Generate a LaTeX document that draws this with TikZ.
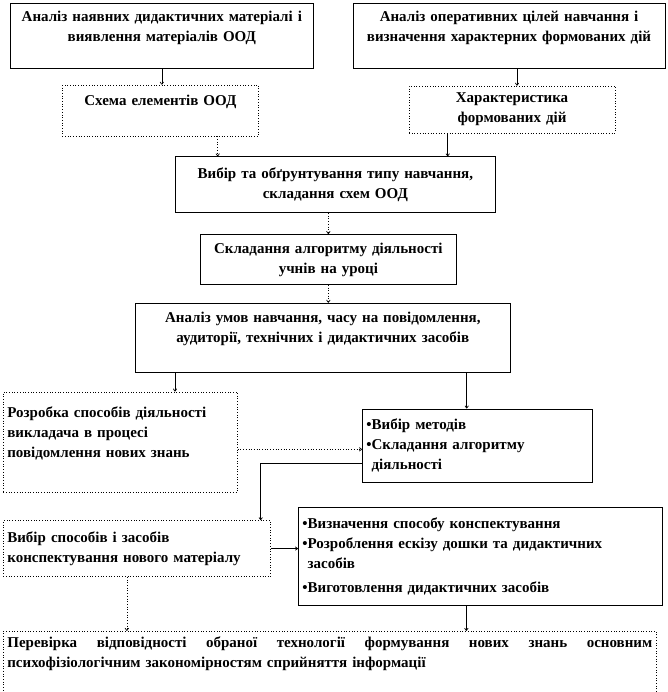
\documentclass[tikz,border=0pt]{standalone}
\usepackage{fontspec}
\setmainfont{Liberation Serif}
\usetikzlibrary{arrows.meta,positioning}

\begin{document}
\begin{tikzpicture}[x=1pt, y=1pt,
  every node/.style={font=\bfseries\fontsize{15}{20}\selectfont},
  box/.style={rectangle, draw, line width=0.7pt, inner sep=4pt, align=center, anchor=north west},
  dbox/.style={box, dotted},
  arr/.style={-{To[length=3pt,width=4pt]}, line width=0.7pt},
  darr/.style={arr, dotted}]
\useasboundingbox (0,0) rectangle (667,-692);
% top row
\node[box, text width=295pt, minimum height=65pt] (b1) at (10,-3) {Аналіз наявних дидактичних матеріалі і\\ виявлення матеріалів ООД\\ ~};
\node[box, text width=304pt, minimum height=65pt, below right=0pt and 39pt of b1.north east] (b2) {Аналіз оперативних цілей навчання і\\ визначення характерних формованих дій\\ ~};
\node[dbox, text width=188pt, minimum height=51pt, below right=16pt and 52pt of b1.south west] (b3) {Схема елементів ООД\\ ~};
\node[dbox, text width=198pt, minimum height=47pt, below right=17pt and 56pt of b2.south west] (b4) {Характеристика\\ формованих дій};
% middle chain
\node[box, text width=312pt, minimum height=56pt, below right=20pt and 113pt of b3.south west] (b5) {Вибір та обґрунтування типу навчання,\\ складання схем ООД};
\node[box, text width=248pt, minimum height=50pt, below right=21pt and 25pt of b5.south west] (b6) {Складання алгоритму діяльності\\ учнів на уроці};
\node[box, text width=367pt, minimum height=69pt, below right=18pt and -65pt of b6.south west] (b7) {Аналіз умов навчання, часу на повідомлення,\\ аудиторії, технічних і дидактичних засобів\\ ~};
% lower part
\node[dbox, align=left, text width=226pt, minimum height=100pt, below right=19pt and -132pt of b7.south west] (b8) {Розробка способів діяльності\\ викладача в процесі\\ повідомлення нових знань\\ ~};
\node[box, align=left, text width=222pt, minimum height=73pt, below right=36pt and 227pt of b7.south west] (b9) {\textbullet Вибір методів\\ \textbullet Складання алгоритму\\ \phantom{\textbullet}діяльності};
\node[dbox, align=left, text width=259pt, minimum height=56pt, below right=28pt and 0pt of b8.south west] (b10) {Вибір способів і засобів\\ конспектування нового матеріалу};
\node[box, align=left, text width=356pt, minimum height=98pt, below right=25pt and -64pt of b9.south west] (b11) {\textbullet Визначення способу конспектування\\ \textbullet Розроблення ескізу дошки та дидактичних\\ \phantom{\textbullet}засобів\\[4pt] \textbullet Виготовлення дидактичних засобів};
\node[dbox, align=left, text width=645pt, minimum height=61pt, below right=54pt and 0pt of b10.south west] (b12) {Перевірка\hfill відповідності\hfill обраної\hfill технології\hfill формування\hfill нових\hfill знань\hfill основним\\ психофізіологічним закономірностям сприйняття інформації\\ ~};
% connectors
\draw[arr] (b1.south) -- (b1.south |- b3.north);
\draw[arr] ([xshift=5pt]b4.north |- b2.south) -- ([xshift=5pt]b4.north);
\draw[darr] ([xshift=-41pt]b3.south east) -- ([xshift=-41pt]b3.south east |- b5.north);
\draw[arr] ([xshift=39pt]b4.south west) -- ([xshift=39pt]b4.south west |- b5.north);
\draw[darr] (b6.north |- b5.south) -- (b6.north);
\draw[darr] (b6.south) -- (b6.south |- b7.north);
\draw[arr] ([xshift=40pt]b7.south west) -- ([xshift=40pt]b7.south west |- b8.north);
\draw[arr] ([xshift=-44pt]b7.south east) -- ([xshift=-44pt]b7.south east |- b9.north);
\draw[darr] ([yshift=-4pt]b9.west -| b8.east) -- ([yshift=-4pt]b9.west);
\draw[arr] ([yshift=-18pt]b9.west) -| ([xshift=-10pt]b10.north east);
\draw[arr] (b10.east) -- (b10.east -| b11.west);
\draw[darr] ([xshift=-10pt]b10.south) -- ([xshift=-10pt]b10.south |- b12.north);
\draw[arr] ([xshift=-14pt]b11.south) -- ([xshift=-14pt]b11.south |- b12.north);
\end{tikzpicture}
\end{document}
